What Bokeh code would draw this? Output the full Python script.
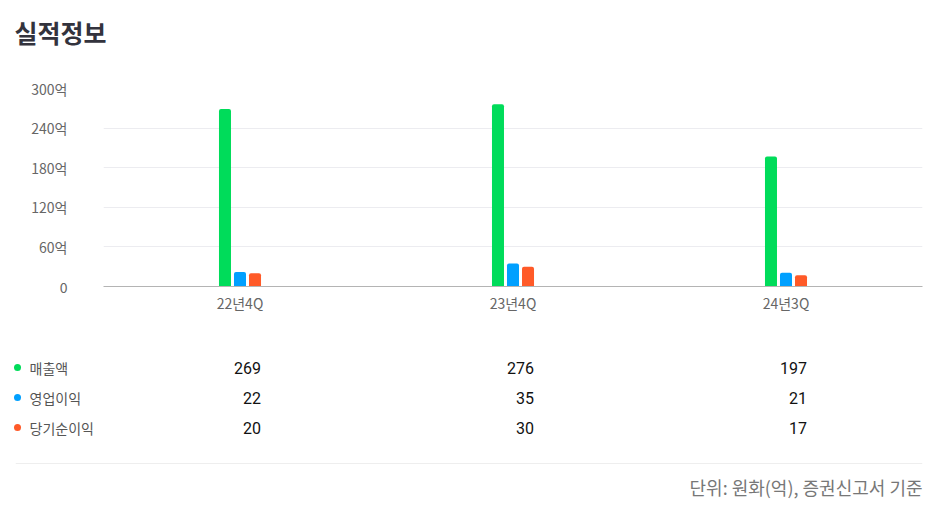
from bokeh.core.properties import value
from bokeh.embed import file_html
from bokeh.layouts import column, row
from bokeh.models import ColumnDataSource, FactorRange, FixedTicker, Label, Range1d, Span
from bokeh.plotting import figure
from bokeh.resources import INLINE
from bokeh.transform import dodge

# data
title = "실적정보"
quarters = ["22년4Q", "23년4Q", "24년3Q"]
series = ["매출액", "영업이익", "당기순이익"]
sales = [269, 276, 197]
op_income = [22, 35, 21]
net_income = [20, 30, 17]
y_ticks = [0, 60, 120, 180, 240, 300]
y_tick_labels = ["0", "60억", "120억", "180억", "240억", "300억"]
note = "단위: 원화(억), 증권신고서 기준"

colors = ["#00dc5a", "#00a0ff", "#ff5a28"]
KR = "Noto Sans CJK KR"
NUM = "Roboto"

LEFT, RIGHT, FRAME_W = 103, 10, 819


def bare(fig):
    fig.outline_line_color = None
    fig.xgrid.grid_line_color = None
    fig.ygrid.grid_line_color = None
    return fig


# header with the title
hdr = bare(figure(x_range=Range1d(0, 932), y_range=Range1d(0, 60),
                  frame_width=932, frame_height=60, min_border=0,
                  x_axis_location=None, y_axis_location=None,
                  output_backend="svg", toolbar_location=None))
hdr.add_layout(Label(x=14, y=29, text=title, text_font=KR, text_font_style="bold",
                     text_font_size="25px", text_color="#33333d", text_baseline="middle"))

# bar chart
src = ColumnDataSource(data=dict(q=quarters, s0=sales, s1=op_income, s2=net_income))
p = figure(x_range=FactorRange(factors=quarters, range_padding=0), y_range=Range1d(0, 300),
           frame_width=FRAME_W, frame_height=198,
           min_border_left=LEFT, min_border_right=RIGHT, min_border_top=28, min_border_bottom=44,
           output_backend="svg", toolbar_location=None)
p.outline_line_color = None

offsets = [-0.055, 0, 0.055]
for i, key in enumerate(["s0", "s1", "s2"]):
    p.vbar(x=dodge("q", offsets[i], range=p.x_range), top=key, width=0.044,
           source=src, fill_color=colors[i], line_color=None, border_radius=(2, 2, 0, 0))

p.yaxis.ticker = FixedTicker(ticks=y_ticks)
p.yaxis.major_label_overrides = dict(zip(y_ticks, y_tick_labels))
p.yaxis.axis_line_color = None
p.yaxis.major_tick_line_color = None
p.yaxis.minor_tick_line_color = None
p.yaxis.major_tick_out = 0
p.yaxis.major_tick_in = 0
p.yaxis.major_label_standoff = 36
p.yaxis.major_label_text_font = KR
p.yaxis.major_label_text_font_size = "14px"
p.yaxis.major_label_text_color = "#666666"

p.xaxis.axis_line_color = "#b4b4b4"
p.xaxis.major_tick_line_color = None
p.xaxis.major_tick_out = 0
p.xaxis.major_tick_in = 0
p.xaxis.major_label_standoff = 6
p.xaxis.major_label_text_font = KR
p.xaxis.major_label_text_font_size = "14px"
p.xaxis.major_label_text_color = "#666666"

p.xgrid.grid_line_color = None
p.ygrid.ticker = FixedTicker(ticks=y_ticks)
p.ygrid.grid_line_color = "#ececf0"

# table: legend column on the left, values under each quarter
rows = FactorRange(factors=series[::-1])
tl = bare(figure(x_range=Range1d(0, LEFT), y_range=rows,
                 frame_width=LEFT, frame_height=90,
                 min_border_left=0, min_border_right=0, min_border_top=22, min_border_bottom=8,
                 x_axis_location=None, y_axis_location=None,
                 output_backend="svg", toolbar_location=None))
tl.scatter(x=[17] * len(series), y=series, size=7, fill_color=colors, line_color=None)
tl.text(x=[29] * len(series), y=series, text=series, text_align="left", text_baseline="middle",
        text_font=value(KR), text_font_size="14px", text_color="#555555")

t = bare(figure(x_range=p.x_range, y_range=rows,
                frame_width=FRAME_W, frame_height=90,
                min_border_left=0, min_border_right=RIGHT, min_border_top=22, min_border_bottom=8,
                x_axis_location=None, y_axis_location=None,
                output_backend="svg", toolbar_location=None))

tq, ts, tv = [], [], []
for name, vals in zip(series, [sales, op_income, net_income]):
    for q, v in zip(quarters, vals):
        tq.append(q)
        ts.append(name)
        tv.append(str(v))
t.text(x="q", y="s", text="v", source=ColumnDataSource(data=dict(q=tq, s=ts, v=tv)),
       x_offset=21, text_align="right", text_baseline="middle",
       text_font=value(NUM), text_font_size="16px", text_color="#111111")

# footer
f = bare(figure(x_range=Range1d(0, 1), y_range=Range1d(0, 60),
                frame_width=907, frame_height=60,
                min_border_left=15, min_border_right=RIGHT, min_border_top=0, min_border_bottom=0,
                x_axis_location=None, y_axis_location=None,
                output_backend="svg", toolbar_location=None))
f.add_layout(Span(location=47, dimension="width", line_color="#eeeeee", line_width=1))
f.add_layout(Label(x=1, y=24, text=note, text_align="right", text_baseline="middle",
                   text_font=KR, text_font_size="18px", text_color="#777777"))

layout = column(row(hdr), p, row(tl, t), row(f), spacing=0)
open("out.html", "w").write(file_html(layout, INLINE))
